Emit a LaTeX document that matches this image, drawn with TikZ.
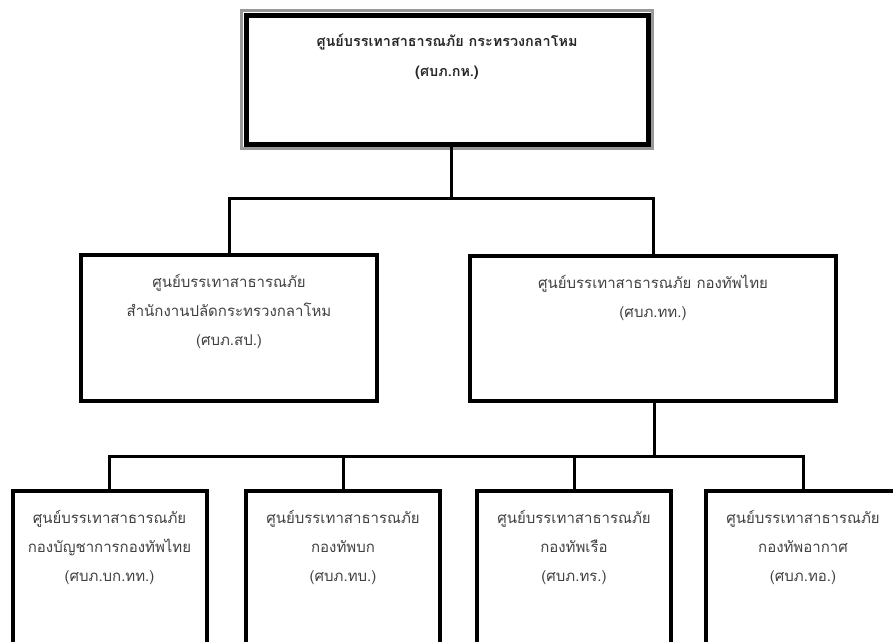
\documentclass[tikz,border=0pt]{standalone}
\usepackage{fontspec}
\newfontfamily\thaifont[Script=Thai]{Loma}
\begin{document}
\begin{tikzpicture}[x=1pt,y=-1pt,
  box/.style={draw=black, line width=4pt, rectangle, inner sep=0pt, outer sep=0pt},
  txt/.style={font=\thaifont\fontsize{15}{29}\selectfont, text=black!75, align=center, inner sep=0pt},
  link/.style={draw=black, line width=3pt, line join=miter}]
\useasboundingbox (0,0) rectangle (893,641);
\clip (0,0) rectangle (893,641);
% top box (double frame)
\node[box, line width=3pt, draw=black!40, minimum width=411pt, minimum height=138pt] (topframe) at (446.8,79.2) {};
\node[box, line width=5pt, minimum width=402pt, minimum height=129pt] (top) at (447,79.5) {};
\node[txt, font=\thaifont\bfseries\fontsize{14.4}{30}\selectfont, text=black!85] (toptxt) at (447,57) {ศูนย์บรรเทาสาธารณภัย กระทรวงกลาโหม\\(ศบภ.กห.)};
% middle boxes
\node[box, minimum width=296pt, minimum height=145.5pt] (sp) at (229,327.75) {};
\node[txt] (sptxt) at (229,311.5) {ศูนย์บรรเทาสาธารณภัย\\สำนักงานปลัดกระทรวงกลาโหม\\(ศบภ.สป.)};
\node[box, minimum width=366pt, minimum height=145pt] (tt) at (653,328.5) {};
\node[txt] (tttxt) at (653,297.5) {ศูนย์บรรเทาสาธารณภัย กองทัพไทย\\(ศบภ.ทท.)};
% bottom boxes
\node[box, minimum width=194pt, minimum height=200pt, anchor=north] (b1) at (109.5,491) {};
\node[box, minimum width=194pt, minimum height=200pt, anchor=north] (b2) at (343,491) {};
\node[box, minimum width=194pt, minimum height=200pt, anchor=north] (b3) at (574,491) {};
\node[box, minimum width=194pt, minimum height=200pt, anchor=north] (b4) at (803,491) {};
\node[txt] (b1txt) at (109.5,547) {ศูนย์บรรเทาสาธารณภัย\\กองบัญชาการกองทัพไทย\\(ศบภ.บก.ทท.)};
\node[txt] (b2txt) at (343,547) {ศูนย์บรรเทาสาธารณภัย\\กองทัพบก\\(ศบภ.ทบ.)};
\node[txt] (b3txt) at (574,547) {ศูนย์บรรเทาสาธารณภัย\\กองทัพเรือ\\(ศบภ.ทร.)};
\node[txt] (b4txt) at (803,547) {ศูนย์บรรเทาสาธารณภัย\\กองทัพอากาศ\\(ศบภ.ทอ.)};
% connectors
\coordinate (j1) at (451,198);
\draw[link] (top.south -| j1) -- (j1);
\draw[link] (sp.north) -- (sp.north |- j1) -- (tt.north |- j1) -- (tt.north);
\coordinate (j2) at (654,456);
\draw[link] (tt.south -| j2) -- (j2);
\draw[link] (b1.north) -- (b1.north |- j2) -- (b4.north |- j2) -- (b4.north);
\draw[link] (b2.north) -- (b2.north |- j2);
\draw[link] (b3.north) -- (b3.north |- j2);
\end{tikzpicture}
\end{document}
